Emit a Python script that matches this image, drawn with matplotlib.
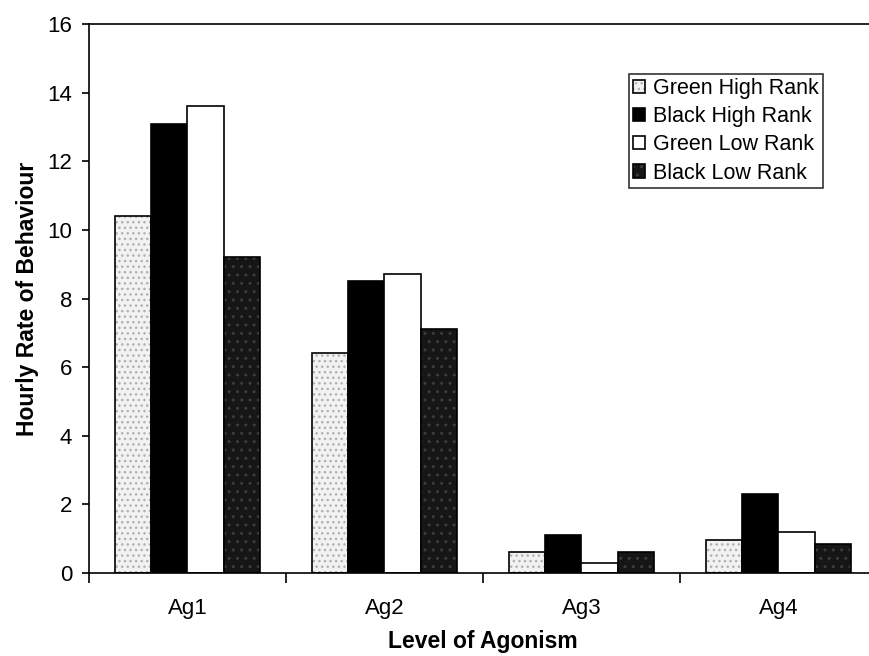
import numpy as np
import matplotlib.pyplot as plt

plt.rcParams['font.family'] = ['Liberation Sans', 'DejaVu Sans']

categories = ['Ag1', 'Ag2', 'Ag3', 'Ag4']
series = ['Green High Rank', 'Black High Rank', 'Green Low Rank', 'Black Low Rank']
green_high = [10.4, 6.4, 0.6, 0.95]
black_high = [13.1, 8.5, 1.1, 2.3]
green_low = [13.6, 8.7, 0.3, 1.2]
black_low = [9.2, 7.1, 0.6, 0.85]
values = [green_high, black_high, green_low, black_low]

faces = ['#f2f2f2', 'black', 'white', '#161616']
hatches = ['...', None, None, '..']
hatch_cols = ['#b0b0b0', 'black', 'white', '#3c3c3c']

fig = plt.figure(figsize=(8.69, 6.56), dpi=100)
ax = fig.add_axes([0.1024, 0.1265, 0.9068, 0.8369])

x = np.arange(len(categories))
w = 0.185
handles = []
for i in range(4):
    # fill + stipple first, then the black outline on top
    fill = ax.bar(x + (i - 1.5) * w, values[i], w, color=faces[i],
                  edgecolor=hatch_cols[i], linewidth=0, hatch=hatches[i])
    edge = ax.bar(x + (i - 1.5) * w, values[i], w, fill=False,
                  edgecolor='black', linewidth=1.2)
    handles.append((fill, edge))

ax.set_xlim(-0.5, 3.5)
ax.set_ylim(0, 16)
ax.set_yticks(range(0, 17, 2))
ax.set_xticks(x)
ax.set_xticklabels(categories, fontsize=16)
ax.set_xticks(np.arange(-0.5, 3.6, 1), minor=True)
ax.tick_params(axis='x', which='major', length=0, pad=18)
ax.tick_params(axis='x', which='minor', length=7, direction='out', width=1.2)
ax.tick_params(axis='y', labelsize=16, length=5, width=1.2, pad=7, direction='out')
ax.spines['right'].set_visible(False)
for s in ['left', 'top', 'bottom']:
    ax.spines[s].set_linewidth(1.2)
ax.set_ylabel('Hourly Rate of Behaviour', fontsize=16.5, fontweight='bold', labelpad=6)
ax.set_xlabel('Level of Agonism', fontsize=16.5, fontweight='bold', labelpad=8)

leg = ax.legend(handles, series, loc='upper right', bbox_to_anchor=(0.9315, 0.909),
                borderaxespad=0, fontsize=15.5, frameon=True, fancybox=False,
                edgecolor='black', handlelength=0.56, handleheight=0.56,
                handletextpad=0.37, labelspacing=0.33, borderpad=0.2)
leg.get_frame().set_linewidth(1.2)

fig.savefig('out.png', dpi=100)
